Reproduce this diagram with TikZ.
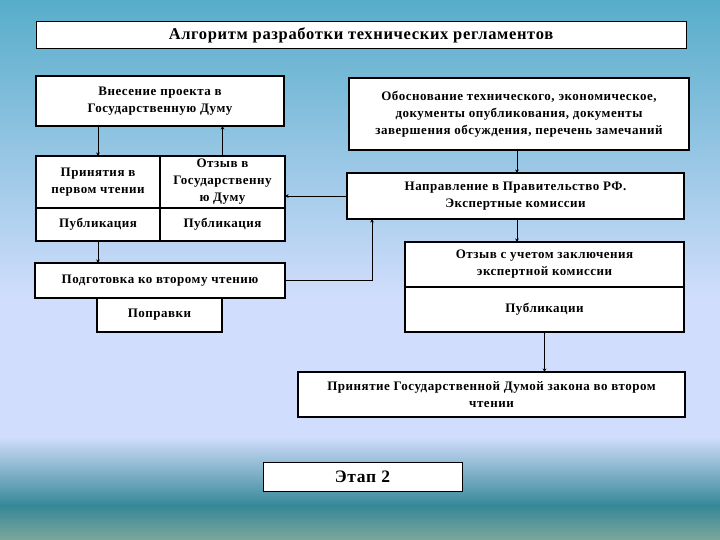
\documentclass[tikz,border=0pt]{standalone}
\usepackage{fontspec}
\setmainfont{Liberation Serif}[LetterSpace=4]
\usetikzlibrary{arrows.meta,positioning}

\definecolor{bgtop}{HTML}{57ADCA}
\definecolor{bglight}{HTML}{D0DDFC}
\definecolor{bgdeep}{HTML}{358899}
\definecolor{bgfoot}{HTML}{7CA69A}

\begin{document}
\begin{tikzpicture}[
  x=1pt, y=-1pt,
  font=\bfseries\fontsize{13}{17}\selectfont,
  >={Stealth[length=3.5pt,width=3.5pt]},
  box/.style={draw, line width=1.6pt, fill=white, align=center, inner sep=2pt, outer sep=0pt},
  cell/.style={box, minimum width=124pt},
  flow/.style={->, line width=.9pt}
]
% background
\useasboundingbox (0,0) rectangle (720,540);
\fill[top color=bgtop, bottom color=bglight] (0,0) rectangle (720,296);
\fill[bglight] (0,295) rectangle (720,438);
\fill[top color=bglight, bottom color=bgdeep] (0,437) rectangle (720,506);
\fill[top color=bgdeep, bottom color=bgfoot] (0,505) rectangle (720,540);

\node[box, line width=1pt, minimum width=650pt, minimum height=27pt, font=\bfseries\fontsize{16.5}{18}\selectfont] (title) at (361,35) {Алгоритм разработки технических регламентов};

% left column
\node[box, minimum width=248pt, minimum height=50pt] (intro) at (160,101) {Внесение проекта в\\Государственную Думу};
\node[cell, minimum height=52pt] (first) at (98,182) {Принятия в\\первом чтении};
\node[cell, minimum height=52pt, minimum width=125pt, right=0pt of first] (review) {Отзыв в\\Государственну\\ю Думу};
\node[cell, minimum height=33pt, below=0pt of first] (pub-a) {Публикация};
\node[cell, minimum height=33pt, minimum width=125pt, below=0pt of review] (pub-b) {Публикация};
\node[box, minimum width=250pt, minimum height=35pt] (prep) at (160,280.5) {Подготовка ко второму чтению};
\node[box, minimum width=125pt, minimum height=34pt] (amend) at (159.5,315) {Поправки};

% right column
\node[box, minimum width=340pt, minimum height=72pt] (basis) at (519,114) {Обоснование технического, экономическое,\\документы опубликования, документы\\завершения обсуждения, перечень замечаний};
\node[box, minimum width=337pt, minimum height=46pt] (gov) at (515.5,196) {Направление в Правительство РФ.\\Экспертные комиссии};
\node[box, minimum width=279pt, minimum height=45pt] (opinion) at (544.5,264.5) {Отзыв с учетом заключения\\экспертной комиссии};
\node[box, minimum width=279pt, minimum height=45pt, below=0pt of opinion] (pub-c) {Публикации};
\node[box, minimum width=387pt, minimum height=45pt] (adopt) at (491.5,394.5) {Принятие Государственной Думой закона во втором\\чтении};
\node[box, line width=1pt, minimum width=199pt, minimum height=29pt, font=\bfseries\fontsize{17.5}{19}\selectfont] (stage) at (362.5,476.5) {Этап 2};

\coordinate (turn) at (372,0);

\draw[flow] (intro.south -| first) -- (first.north);
\draw[flow] (review.north) -- (review.north |- intro.south);
\draw[flow] (gov.west) -- (gov.west -| review.east);
\draw[flow] (basis.south -| 517,0) -- (gov.north -| 517,0);
\draw[flow] (gov.south -| 517,0) -- (opinion.north -| 517,0);
\draw[flow] (pub-a.south) -- (pub-a.south |- prep.north);
\draw[flow] (prep.east) -| (turn |- gov.south);
\draw[flow] (pub-c.south) -- (pub-c.south |- adopt.north);
\end{tikzpicture}
\end{document}
